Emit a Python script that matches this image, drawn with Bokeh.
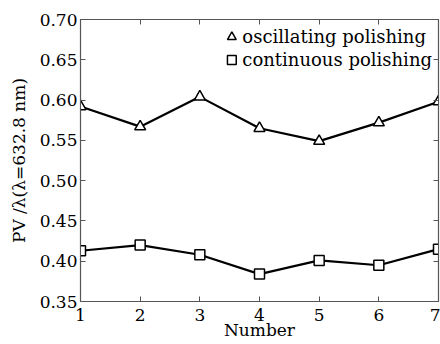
from bokeh.plotting import figure
from bokeh.models import LinearAxis, Legend, LegendItem, FixedTicker, CustomJSTickFormatter
from bokeh.embed import file_html
from bokeh.resources import INLINE

numbers = [1, 2, 3, 4, 5, 6, 7]
oscillating = [0.592, 0.567, 0.604, 0.565, 0.549, 0.572, 0.598]
continuous = [0.413, 0.420, 0.408, 0.384, 0.401, 0.395, 0.415]
y_ticks = [0.35, 0.40, 0.45, 0.50, 0.55, 0.60, 0.65, 0.70]
x_title = "Number"
y_title = "PV /λ(λ=632.8 nm)"

FONT = "DejaVu Serif"

p = figure(width=440, height=344, output_backend="svg", toolbar_location=None,
           x_range=(1, 7), y_range=(0.35, 0.70),
           min_border_left=80, min_border_right=2, min_border_top=19, min_border_bottom=43)
p.grid.visible = False
p.outline_line_color = "#555555"
p.outline_line_width = 1.2

for ax in p.xaxis + p.yaxis:
    ax.major_tick_in = 5
    ax.major_tick_out = 0
    ax.minor_tick_in = 0
    ax.minor_tick_out = 0
    ax.axis_line_color = "#555555"
    ax.major_tick_line_color = "#555555"
    ax.major_label_text_font = FONT
    ax.major_label_text_font_size = "17px"
    ax.major_label_text_color = "black"
    ax.axis_label_text_font = FONT
    ax.axis_label_text_font_style = "normal"
    ax.axis_label_text_font_size = "17px"
    ax.axis_label_text_color = "black"

p.xaxis.ticker = FixedTicker(ticks=numbers)
p.yaxis.ticker = FixedTicker(ticks=y_ticks)
p.yaxis.formatter = CustomJSTickFormatter(code="return tick.toFixed(2);")
p.xaxis.axis_label = x_title
p.yaxis.axis_label = y_title
p.xaxis.major_label_standoff = 7
p.xaxis.axis_label_standoff = -4
p.yaxis.major_label_standoff = 3
p.yaxis.axis_label_standoff = 8

for loc, tick in (("right", y_ticks), ("above", numbers)):
    ax = LinearAxis(ticker=FixedTicker(ticks=tick),
                    formatter=CustomJSTickFormatter(code="return '';"),
                    major_label_standoff=0, major_tick_in=5, major_tick_out=0,
                    minor_tick_in=0, minor_tick_out=0,
                    axis_line_color="#555555", major_tick_line_color="#555555")
    p.add_layout(ax, loc)

p.line(numbers, oscillating, line_color="black", line_width=2.2)
r1 = p.scatter(numbers, oscillating, marker="triangle", size=11, fill_color="white",
               line_color="black", line_width=1.5)
p.line(numbers, continuous, line_color="black", line_width=2.2)
r2 = p.scatter(numbers, continuous, marker="square", size=10, fill_color="white",
               line_color="black", line_width=1.5)

legend = Legend(items=[LegendItem(label="oscillating polishing", renderers=[r1]),
                       LegendItem(label="continuous polishing", renderers=[r2])],
                location="top_right", border_line_color=None, background_fill_alpha=0,
                label_text_font=FONT, label_text_font_size="18px", label_text_color="black",
                glyph_width=22, glyph_height=23, label_standoff=0, spacing=0,
                label_height=23, padding=2, margin=6)
p.add_layout(legend)

open("out.html", "w").write(file_html(p, INLINE))
